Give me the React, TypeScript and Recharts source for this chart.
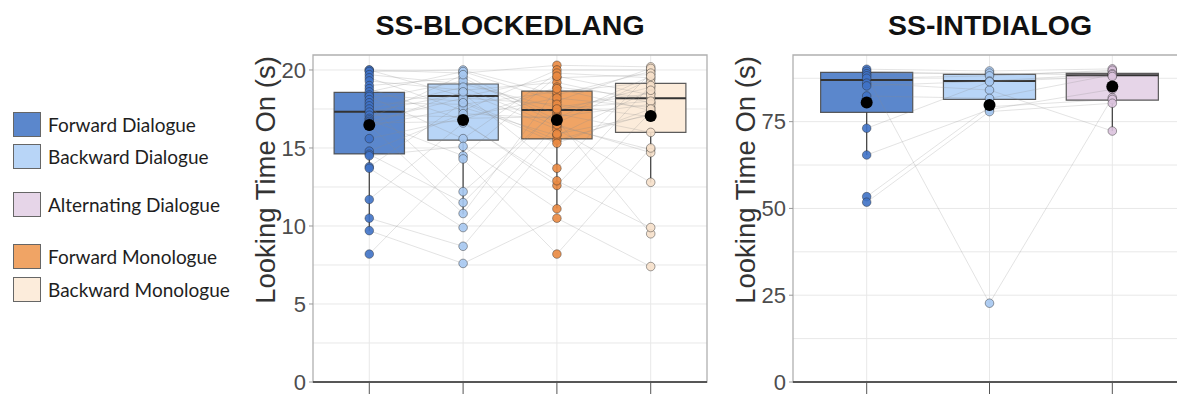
import React from 'react';
import { ComposedChart, XAxis, YAxis, CartesianGrid, Scatter, ReferenceArea, ReferenceLine } from 'recharts';

// ---------- Panel 1: SS-BLOCKEDLANG ----------
const blockedConditions = ['Forward Dialogue', 'Backward Dialogue', 'Forward Monologue', 'Backward Monologue'];
const blockedX = [1, 2, 3, 4];
// one entry per participant (same order in every array)
const blockedFD = [20.0, 20.0, 19.9, 19.7, 19.5, 19.3, 19.0, 18.8, 18.6, 18.4, 18.3, 18.1, 17.9, 17.7, 17.5, 17.3, 17.1, 16.9, 16.8, 16.7, 16.6, 16.5, 16.5, 16.4, 15.6, 14.8, 14.6, 14.5, 13.8, 13.7, 11.7, 10.5, 9.7, 8.2];
const blockedBD = [19.8, 18.3, 20.0, 19.1, 17.4, 18.7, 19.5, 16.8, 19.9, 18.0, 15.6, 19.3, 17.8, 12.2, 18.9, 18.5, 17.0, 19.7, 14.5, 18.2, 16.7, 10.8, 18.6, 17.6, 16.9, 17.2, 11.5, 15.1, 17.9, 9.9, 16.6, 8.7, 7.6, 14.3];
const blockedFM = [20.3, 19.5, 18.4, 17.6, 20.0, 19.2, 16.6, 18.9, 18.0, 15.5, 19.8, 17.2, 18.6, 17.4, 16.4, 13.7, 18.2, 16.8, 19.6, 17.8, 12.6, 18.8, 16.2, 15.8, 17.0, 16.9, 17.5, 11.1, 15.3, 16.5, 12.9, 15.9, 10.5, 8.2];
const blockedBM = [20.2, 19.7, 19.9, 18.5, 20.0, 17.9, 19.4, 18.2, 20.1, 17.2, 19.5, 16.0, 19.2, 18.9, 14.9, 19.8, 17.6, 9.5, 18.4, 17.0, 19.0, 17.4, 12.8, 18.7, 17.8, 19.6, 18.0, 17.3, 17.5, 14.7, 9.9, 17.1, 7.4, 15.0];
const blockedQ1 = [14.62, 15.51, 15.58, 16.0];
const blockedMedian = [17.33, 18.33, 17.44, 18.18];
const blockedQ3 = [18.57, 19.1, 18.65, 19.14];
const blockedWhiskerLow = [9.7, 10.75, 11.13, 12.78];
const blockedWhiskerHigh = [20.0, 20.0, 20.32, 20.2];
const blockedMean = [16.47, 16.79, 16.79, 17.05];
const blockedTicks = [0, 5, 10, 15, 20];
const blockedGrid = [0, 2.5, 5, 7.5, 10, 12.5, 15, 17.5, 20];

// ---------- Panel 2: SS-INTDIALOG ----------
const intConditions = ['Forward Dialogue', 'Backward Dialogue', 'Alternating Dialogue'];
const intX = [1, 2, 3];
const intFD = [90.1, 89.5, 88.8, 88.2, 87.5, 86.1, 85.3, 82.4, 73.1, 65.4, 53.4, 51.8];
const intBD = [89.6, 88.6, 89.0, 22.7, 88.2, 84.1, 86.7, 81.7, 86.5, 78.5, 79.3, 77.9];
const intAD = [90.2, 89.4, 88.3, 81.9, 89.8, 72.3, 88.8, 88.5, 88.0, 84.3, 81.4, 80.3];
const intQ1 = [77.7, 81.4, 81.2];
const intMedian = [87.0, 86.7, 88.4];
const intQ3 = [89.2, 88.6, 88.9];
const intWhiskerLow = [65.4, 77.7, 72.3];
const intWhiskerHigh = [90.1, 89.6, 90.2];
const intMean = [80.5, 79.8, 85.1];
const intTicks = [0, 25, 50, 75];
const intGrid = [0, 12.5, 25, 37.5, 50, 62.5, 75, 87.5];

const legendItems = ['Forward Dialogue', 'Backward Dialogue', 'Alternating Dialogue', 'Forward Monologue', 'Backward Monologue'];

const boxFill: Record<string, string> = {
  'Forward Dialogue': '#5b87cc',
  'Backward Dialogue': '#b8d5f7',
  'Alternating Dialogue': '#e6d5e8',
  'Forward Monologue': '#f0a465',
  'Backward Monologue': '#fcecdb',
};
const pointFill: Record<string, string> = {
  'Forward Dialogue': '#3f72c6',
  'Backward Dialogue': '#a6c8f1',
  'Alternating Dialogue': '#dcc3de',
  'Forward Monologue': '#ea8a41',
  'Backward Monologue': '#f6e0ca',
};

const SANS = '"Liberation Sans", Arial, Helvetica, sans-serif';

type PanelProps = {
  conditions: string[];
  xs: number[];
  series: number[][];
  q1: number[];
  median: number[];
  q3: number[];
  wLow: number[];
  wHigh: number[];
  means: number[];
  yMax: number;
  ticks: number[];
  grid: number[];
  width: number;
  yAxisWidth: number;
  labelX: number;
  rightMargin: number;
};

const HALF = 0.375;

function Panel(p: PanelProps) {
  const xMin = 0.4;
  const xMax = p.xs.length + 0.6;
  const n = p.series[0].length;
  const participants = Array.from({ length: n }, (_, i) => p.xs.map((x, j) => ({ x, y: p.series[j][i] })));
  return (
    <ComposedChart width={p.width} height={394} margin={{ top: 55, right: p.rightMargin, left: 0, bottom: 0 }}>
      <CartesianGrid horizontalValues={p.grid} verticalValues={p.xs} stroke="#e8e8e8" strokeWidth={1} />
      <XAxis
        type="number"
        dataKey="x"
        domain={[xMin, xMax]}
        ticks={p.xs}
        interval={0}
        allowDataOverflow
        height={12}
        tickSize={12}
        tickLine={{ stroke: '#555' }}
        axisLine={{ stroke: '#333', strokeWidth: 1.3 }}
        tick={() => null}
      />
      <YAxis
        type="number"
        dataKey="y"
        domain={[0, p.yMax]}
        ticks={p.ticks}
        interval={0}
        allowDataOverflow
        width={p.yAxisWidth}
        axisLine={false}
        tickSize={4}
        tickMargin={3}
        tickLine={{ stroke: '#999' }}
        tick={{ fontSize: 22, fill: '#4d4d4d', fontFamily: SANS }}
        label={{
          content: () => (
            <text
              x={p.labelX}
              y={180}
              transform={`rotate(-90, ${p.labelX}, 180)`}
              textAnchor="middle"
              dominantBaseline="central"
              fontSize={27.5}
              fill="#333"
              fontFamily={SANS}
            >
              Looking Time On (s)
            </text>
          ),
        }}
      />
      {p.conditions.map((c, j) => (
        <ReferenceArea
          key={'box' + c}
          x1={p.xs[j] - HALF}
          x2={p.xs[j] + HALF}
          y1={p.q1[j]}
          y2={p.q3[j]}
          fill={boxFill[c]}
          fillOpacity={1}
          stroke="#4a4a4a"
          strokeWidth={1.2}
          strokeOpacity={0.9}
        />
      ))}
      {participants.map((pts, i) => (
        <Scatter
          key={'pl' + i}
          data={pts}
          line={{ stroke: '#8c8c8c', strokeOpacity: 0.3, strokeWidth: 0.8 }}
          shape={() => <g />}
          isAnimationActive={false}
          legendType="none"
        />
      ))}
      {p.conditions.map((c, j) => (
        <ReferenceLine
          key={'wl' + c}
          segment={[{ x: p.xs[j], y: p.wLow[j] }, { x: p.xs[j], y: p.q1[j] }]}
          stroke="#3a3a3a"
          strokeWidth={1.2}
        />
      ))}
      {p.conditions.map((c, j) => (
        <ReferenceLine
          key={'wh' + c}
          segment={[{ x: p.xs[j], y: p.q3[j] }, { x: p.xs[j], y: p.wHigh[j] }]}
          stroke="#3a3a3a"
          strokeWidth={1.2}
        />
      ))}
      {p.conditions.map((c, j) => (
        <ReferenceLine
          key={'md' + c}
          segment={[{ x: p.xs[j] - HALF, y: p.median[j] }, { x: p.xs[j] + HALF, y: p.median[j] }]}
          stroke="#333"
          strokeWidth={2}
        />
      ))}
      {p.conditions.map((c, j) => (
        <Scatter
          key={'pts' + c}
          data={p.series[j].map((y) => ({ x: p.xs[j], y }))}
          isAnimationActive={false}
          legendType="none"
          shape={(s: any) => (
            <circle cx={s.cx} cy={s.cy} r={4.3} fill={pointFill[c]} fillOpacity={0.9} stroke="#2a2a2a" strokeOpacity={0.55} strokeWidth={0.8} />
          )}
        />
      ))}
      <Scatter
        data={p.means.map((y, j) => ({ x: p.xs[j], y }))}
        isAnimationActive={false}
        legendType="none"
        shape={(s: any) => <circle cx={s.cx} cy={s.cy} r={6} fill="#000" />}
      />
      <ReferenceArea x1={xMin} x2={xMax} y1={0} y2={p.yMax} fill="none" stroke="#b0b0b0" strokeWidth={1.3} ifOverflow="visible" />
    </ComposedChart>
  );
}

export default function App() {
  return (
    <div style={{ position: 'absolute', left: 0, top: 0, width: 1177, height: 394, overflow: 'hidden', background: '#fff' }}>
      {/* Legend */}
      {legendItems.map((name, i) => {
        const tops = [112, 144, 192, 244, 277];
        return (
          <div key={name} style={{ position: 'absolute', left: 13, top: tops[i], height: 25, display: 'flex', alignItems: 'center' }}>
            <div style={{ width: 26, height: 23, background: boxFill[name], border: '1px solid #666', boxSizing: 'content-box' }} />
            <span style={{ marginLeft: 7, fontFamily: 'Lato, "Noto Sans", sans-serif', fontSize: 19, color: '#1e1e1e', whiteSpace: 'nowrap' }}>{name}</span>
          </div>
        );
      })}
      {/* Titles */}
      <div style={{ position: 'absolute', left: 310, width: 400, top: 9, textAlign: 'center', fontFamily: SANS, fontWeight: 700, fontSize: 28.5, color: '#111' }}>SS-BLOCKEDLANG</div>
      <div style={{ position: 'absolute', left: 790, width: 400, top: 9, textAlign: 'center', fontFamily: SANS, fontWeight: 700, fontSize: 28.5, color: '#111' }}>SS-INTDIALOG</div>
      {/* Panel 1 */}
      <div style={{ position: 'absolute', left: 240, top: 0 }}>
        <Panel
          conditions={blockedConditions}
          xs={blockedX}
          series={[blockedFD, blockedBD, blockedFM, blockedBM]}
          q1={blockedQ1}
          median={blockedMedian}
          q3={blockedQ3}
          wLow={blockedWhiskerLow}
          wHigh={blockedWhiskerHigh}
          means={blockedMean}
          yMax={20.96}
          ticks={blockedTicks}
          grid={blockedGrid}
          width={470}
          yAxisWidth={73}
          labelX={25}
          rightMargin={3}
        />
      </div>
      {/* Panel 2 */}
      <div style={{ position: 'absolute', left: 700, top: 0 }}>
        <Panel
          conditions={intConditions}
          xs={intX}
          series={[intFD, intBD, intAD]}
          q1={intQ1}
          median={intMedian}
          q3={intQ3}
          wLow={intWhiskerLow}
          wHigh={intWhiskerHigh}
          means={intMean}
          yMax={94.2}
          ticks={intTicks}
          grid={intGrid}
          width={490}
          yAxisWidth={93}
          labelX={45}
          rightMargin={4}
        />
      </div>
    </div>
  );
}
